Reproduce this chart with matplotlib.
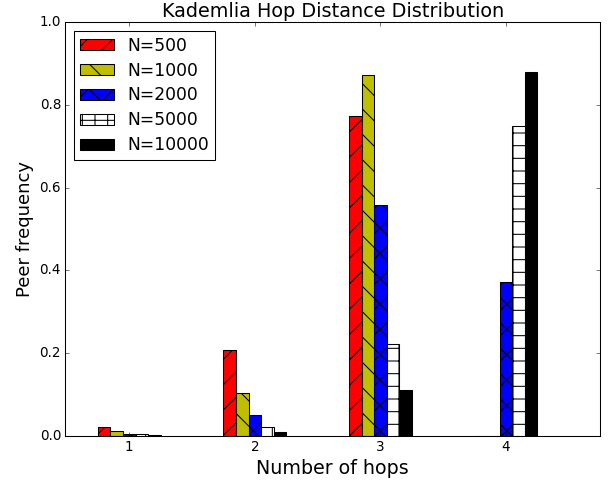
import numpy as np
import matplotlib
matplotlib.use("Agg")
import matplotlib.pyplot as plt

plt.style.use("classic")

hops = [1, 2, 3, 4]
labels = ["N=500", "N=1000", "N=2000", "N=5000", "N=10000"]
freq_500 = [0.022, 0.208, 0.773, 0.0]
freq_1000 = [0.011, 0.103, 0.872, 0.0]
freq_2000 = [0.005, 0.050, 0.557, 0.372]
freq_5000 = [0.003, 0.020, 0.222, 0.748]
freq_10000 = [0.001, 0.010, 0.110, 0.879]

series = [freq_500, freq_1000, freq_2000, freq_5000, freq_10000]
colors = ["r", "y", "b", "w", "k"]
hatches = ["/", "\\", "x", "+", ""]

# lower dpi so the hatch spacing comes out like the original
DPI = 76
fig, ax = plt.subplots(figsize=(616 / DPI, 483 / DPI), dpi=DPI)
fig.subplots_adjust(left=0.106, right=0.974, bottom=0.098, top=0.954)

width = 0.1
ind = np.array(hops, dtype=float)
for i, vals in enumerate(series):
    ax.bar(ind - 0.25 + i * width, vals, width, align="edge",
           color=colors[i], hatch=hatches[i], edgecolor="k",
           label=labels[i])

ax.set_xlim(0.49, 4.75)
ax.set_ylim(0, 1.0)
ax.set_xticks(hops)
ax.set_title("Kademlia Hop Distance Distribution", fontsize=18.2)
ax.set_xlabel("Number of hops", fontsize=18.0)
ax.set_ylabel("Peer frequency", fontsize=17.1)
ax.tick_params(labelsize=12.8)
ax.legend(loc="upper left", fontsize=16.2, labelspacing=0.4,
          handleheight=0.6, borderpad=0.35)

plt.savefig("out.png", dpi=DPI)
